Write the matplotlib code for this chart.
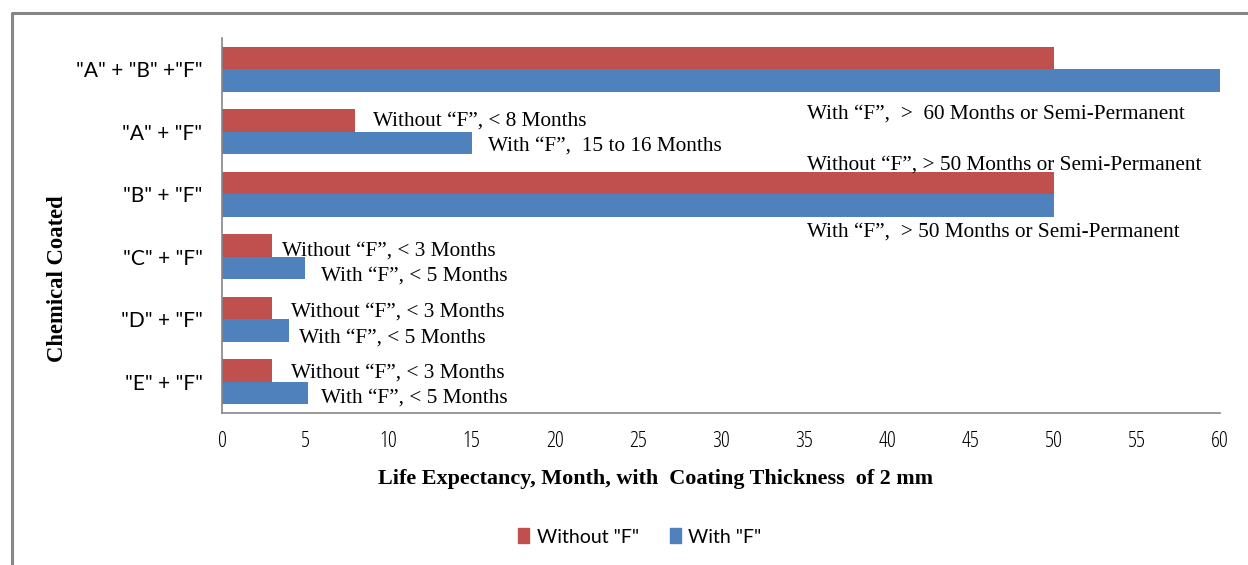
import matplotlib
matplotlib.use("Agg")
import matplotlib.pyplot as plt
from matplotlib.patches import Patch
from matplotlib.lines import Line2D

categories = ['"A" + "B" +"F"', '"A" + "F"', '"B" + "F"', '"C" + "F"', '"D" + "F"', '"E" + "F"']
without_f = [50, 8, 50, 3, 3, 3]
with_f = [60, 15, 50, 5, 4, 5.2]
x_ticks = list(range(0, 61, 5))

# Annotation labels: (text, x in months, y in category units)
notes = [
    ("With \u201cF\u201d,  >  60 Months or Semi-Permanent", 35.2, 0.71),
    ("Without \u201cF\u201d, < 8 Months", 9.1, 0.83),
    ("With \u201cF\u201d,  15 to 16 Months", 16.0, 1.23),
    ("Without \u201cF\u201d, > 50 Months or Semi-Permanent", 35.2, 1.53),
    ("With \u201cF\u201d,  > 50 Months or Semi-Permanent", 35.2, 2.60),
    ("Without \u201cF\u201d, < 3 Months", 3.6, 2.91),
    ("With \u201cF\u201d, < 5 Months", 5.95, 3.31),
    ("Without \u201cF\u201d, < 3 Months", 4.15, 3.89),
    ("With \u201cF\u201d, < 5 Months", 4.6, 4.30),
    ("Without \u201cF\u201d, < 3 Months", 4.15, 4.86),
    ("With \u201cF\u201d, < 5 Months", 5.95, 5.26),
]

RED = "#c0504d"
BLUE = "#4f81bd"
SERIF = ["Liberation Serif", "DejaVu Serif"]
SANS = ["Lato", "DejaVu Sans"]
COND = ["Open Sans", "DejaVu Sans"]

fig = plt.figure(figsize=(12.48, 5.65), dpi=100)

# outer chart frame
frame = Line2D([12/1248, 12/1248, 1.0], [0.0, 1 - 13/565, 1 - 13/565],
               transform=fig.transFigure, color="#868686", lw=2.2)
fig.add_artist(frame)

ax = fig.add_axes([222/1248, 1 - 413/565, (1220 - 222)/1248, (413 - 38)/565])

h = 0.36
ypos = list(range(len(categories)))
ax.barh([y - h/2 for y in ypos], without_f, height=h, color=RED, label='Without "F"')
ax.barh([y + h/2 for y in ypos], with_f, height=h, color=BLUE, label='With "F"')

ax.set_xlim(0, 60)
ax.set_ylim(5.5, -0.5)
ax.set_xticks(x_ticks)
ax.set_xticklabels([str(t) for t in x_ticks], family=COND, fontsize=16, fontstretch="condensed")
ax.set_yticks(ypos)
ax.set_yticklabels(categories, family=SANS, fontsize=15)
ax.tick_params(axis="x", length=0, pad=13)
ax.tick_params(axis="y", length=0, pad=14)

for s in ("top", "right"):
    ax.spines[s].set_visible(False)
for s in ("left", "bottom"):
    ax.spines[s].set_color("#868686")
    ax.spines[s].set_linewidth(1.2)

for txt, x, y in notes:
    ax.text(x, y, txt, family=SERIF, fontsize=15.3, va="center", ha="left", color="black")

fig.text(655/1248, 1 - 479/565, "Life Expectancy, Month, with  Coating Thickness  of 2 mm",
         family=SERIF, fontsize=15.9, fontweight="bold", ha="center", va="center")
fig.text(58/1248, 1 - 279/565, "Chemical Coated", family=SERIF, fontsize=16.3,
         fontweight="bold", rotation=90, ha="center", va="center")

handles = [Patch(color=RED, label='Without "F"'), Patch(color=BLUE, label='With "F"')]
fig.legend(handles=handles, loc="center", bbox_to_anchor=(640/1248, 1 - 537/565),
           ncol=2, frameon=False, prop={"family": SANS, "size": 14},
           handlelength=0.55, handleheight=0.8, handletextpad=0.4, columnspacing=1.6)

fig.savefig("out.png", dpi=100)
